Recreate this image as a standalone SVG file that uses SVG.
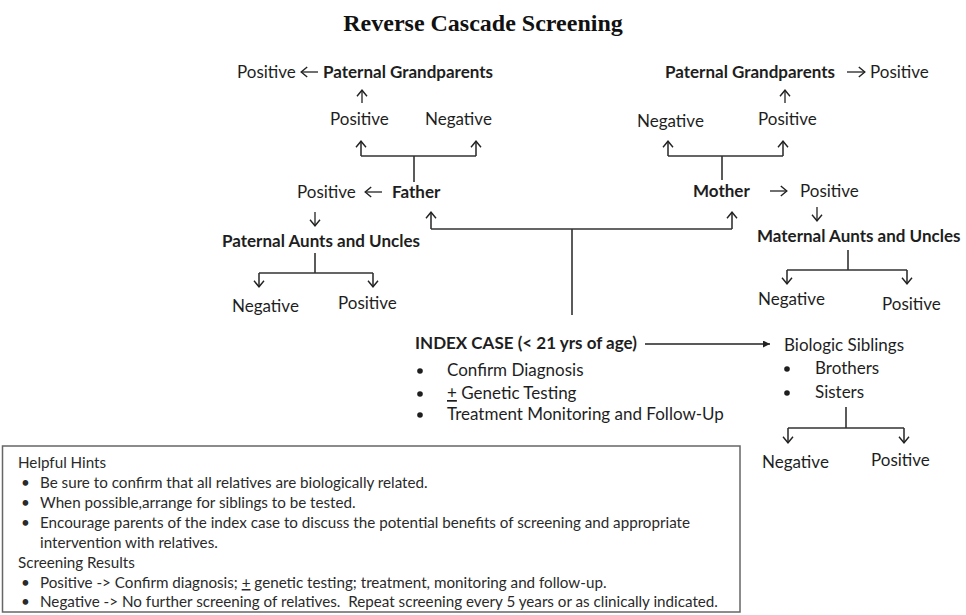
<svg xmlns="http://www.w3.org/2000/svg" width="966" height="615" viewBox="0 0 966 615">
<defs>
<marker id="chev" viewBox="0 0 8 12" refX="7.2" refY="6" markerWidth="8" markerHeight="12" markerUnits="userSpaceOnUse" orient="auto">
<path d="M1,1 L7,6 L1,11" fill="none" stroke="#222" stroke-width="1.4"/>
</marker>
<marker id="tri" viewBox="0 0 8 8" refX="8" refY="4" markerWidth="7" markerHeight="7" markerUnits="userSpaceOnUse" orient="auto">
<path d="M0,0 L8,4 L0,8 z" fill="#222"/>
</marker>
<style>
.t{font-family:Lato,"Liberation Sans",sans-serif;font-size:17px;fill:#1e1e1e}
.b{font-weight:bold}
.s{font-size:15.2px;fill:#2a2a2a}
.title{font-family:"Liberation Serif","Times New Roman",serif;font-size:24px;font-weight:bold;fill:#111}
.ln{fill:none;stroke:#333;stroke-width:1.6}
.ia{fill:none;stroke:#222;stroke-width:1.3;marker-end:url(#chev)}
.ar{marker-end:url(#chev)}
.box{fill:#fff;stroke:#666;stroke-width:1.5}
.dot{fill:#1e1e1e}
</style>
</defs>
<rect width="966" height="615" fill="#fff"/>

<g id="title"><text class="title" x="483" y="31" text-anchor="middle">Reverse Cascade Screening</text></g>

<g id="connectors">
<path class="ia" d="M318,72 L301,72"/>
<path class="ia" d="M362,103 L362,90"/>
<path class="ln" d="M414,182 L414,156 M361,156 L476,156"/>
<path class="ln ar" d="M361,156 L361,141"/>
<path class="ln ar" d="M476,156 L476,141"/>
<path class="ia" d="M382,192 L365,192"/>
<path class="ia" d="M315,212 L315,226"/>
<path class="ln" d="M315,253 L315,273 M259,273 L373,273"/>
<path class="ln ar" d="M259,273 L259,287"/>
<path class="ln ar" d="M373,273 L373,287"/>
<path class="ia" d="M847,72 L865,72"/>
<path class="ia" d="M785,103 L785,90"/>
<path class="ln" d="M722,180 L722,156 M668,156 L783,156"/>
<path class="ln ar" d="M668,156 L668,141"/>
<path class="ln ar" d="M783,156 L783,141"/>
<path class="ia" d="M770,191 L787,191"/>
<path class="ia" d="M817,207 L817,221"/>
<path class="ln" d="M848,250 L848,270 M787,270 L907,270"/>
<path class="ln ar" d="M787,270 L787,284"/>
<path class="ln ar" d="M907,270 L907,284"/>
<path class="ln" d="M572,315 L572,229 M431,229 L732,229"/>
<path class="ln ar" d="M431,229 L431,212"/>
<path class="ln ar" d="M732,229 L732,212"/>
<path d="M645,344 L770,344" fill="none" stroke="#222" stroke-width="1.4" marker-end="url(#tri)"/>
<path class="ln" d="M846,407 L846,428 M788,428 L904,428"/>
<path class="ln ar" d="M788,428 L788,443"/>
<path class="ln ar" d="M904,428 L904,443"/>
</g>

<g id="pgp-left">
<text class="t" x="237" y="78">Positive</text>
<text class="t b" x="323" y="78">Paternal Grandparents</text>
</g>
<g id="father-results">
<text class="t" x="330" y="125">Positive</text>
<text class="t" x="425" y="125">Negative</text>
</g>
<g id="father">
<text class="t" x="297" y="198">Positive</text>
<text class="t b" x="392" y="198">Father</text>
</g>
<g id="paternal-aunts">
<text class="t b" x="222" y="247">Paternal Aunts and Uncles</text>
</g>
<g id="paternal-aunts-results">
<text class="t" x="232" y="312">Negative</text>
<text class="t" x="338" y="309">Positive</text>
</g>

<g id="pgp-right">
<text class="t b" x="665" y="78">Paternal Grandparents</text>
<text class="t" x="870" y="78">Positive</text>
</g>
<g id="mother-results">
<text class="t" x="637" y="127">Negative</text>
<text class="t" x="758" y="125">Positive</text>
</g>
<g id="mother">
<text class="t b" x="693" y="197">Mother</text>
<text class="t" x="800" y="197">Positive</text>
</g>
<g id="maternal-aunts">
<text class="t b" x="757" y="242">Maternal Aunts and Uncles</text>
</g>
<g id="maternal-aunts-results">
<text class="t" x="758" y="305">Negative</text>
<text class="t" x="882" y="310">Positive</text>
</g>

<g id="index-case">
<text class="t b" x="415" y="349">INDEX CASE (&lt; 21 yrs of age)</text>
<circle class="dot" cx="420" cy="371" r="2.8"/>
<circle class="dot" cx="420" cy="394" r="2.8"/>
<circle class="dot" cx="420" cy="415" r="2.8"/>
<text class="t" x="447" y="376">Confirm Diagnosis</text>
<text class="t" x="447" y="399"><tspan text-decoration="underline">+</tspan> Genetic Testing</text>
<text class="t" x="447" y="420">Treatment Monitoring and Follow-Up</text>
</g>

<g id="siblings">
<text class="t" x="784" y="351">Biologic Siblings</text>
<circle class="dot" cx="787" cy="369" r="2.8"/>
<circle class="dot" cx="787" cy="393" r="2.8"/>
<text class="t" x="815" y="374">Brothers</text>
<text class="t" x="815" y="398">Sisters</text>
</g>
<g id="siblings-results">
<text class="t" x="762" y="468">Negative</text>
<text class="t" x="871" y="466">Positive</text>
</g>

<g id="hints">
<rect class="box" x="2.5" y="446" width="737.5" height="166"/>
<text class="t s" x="18" y="468">Helpful Hints</text>
<text class="t s" x="21" y="488">•</text><text class="t s" x="40" y="488">Be sure to confirm that all relatives are biologically related.</text>
<text class="t s" x="21" y="508">•</text><text class="t s" x="40" y="508">When possible,arrange for siblings to be tested.</text>
<text class="t s" x="21" y="528">•</text><text class="t s" x="40" y="528">Encourage parents of the index case to discuss the potential benefits of screening and appropriate</text>
<text class="t s" x="40" y="548">intervention with relatives.</text>
<text class="t s" x="18" y="568">Screening Results</text>
<text class="t s" x="21" y="588">•</text><text class="t s" x="40" y="588">Positive -&gt; Confirm diagnosis; <tspan text-decoration="underline">+</tspan> genetic testing; treatment, monitoring and follow-up.</text>
<text class="t s" x="21" y="607">•</text><text class="t s" x="40" y="607" xml:space="preserve">Negative -&gt; No further screening of relatives.  Repeat screening every 5 years or as clinically indicated.</text>
</g>
</svg>
